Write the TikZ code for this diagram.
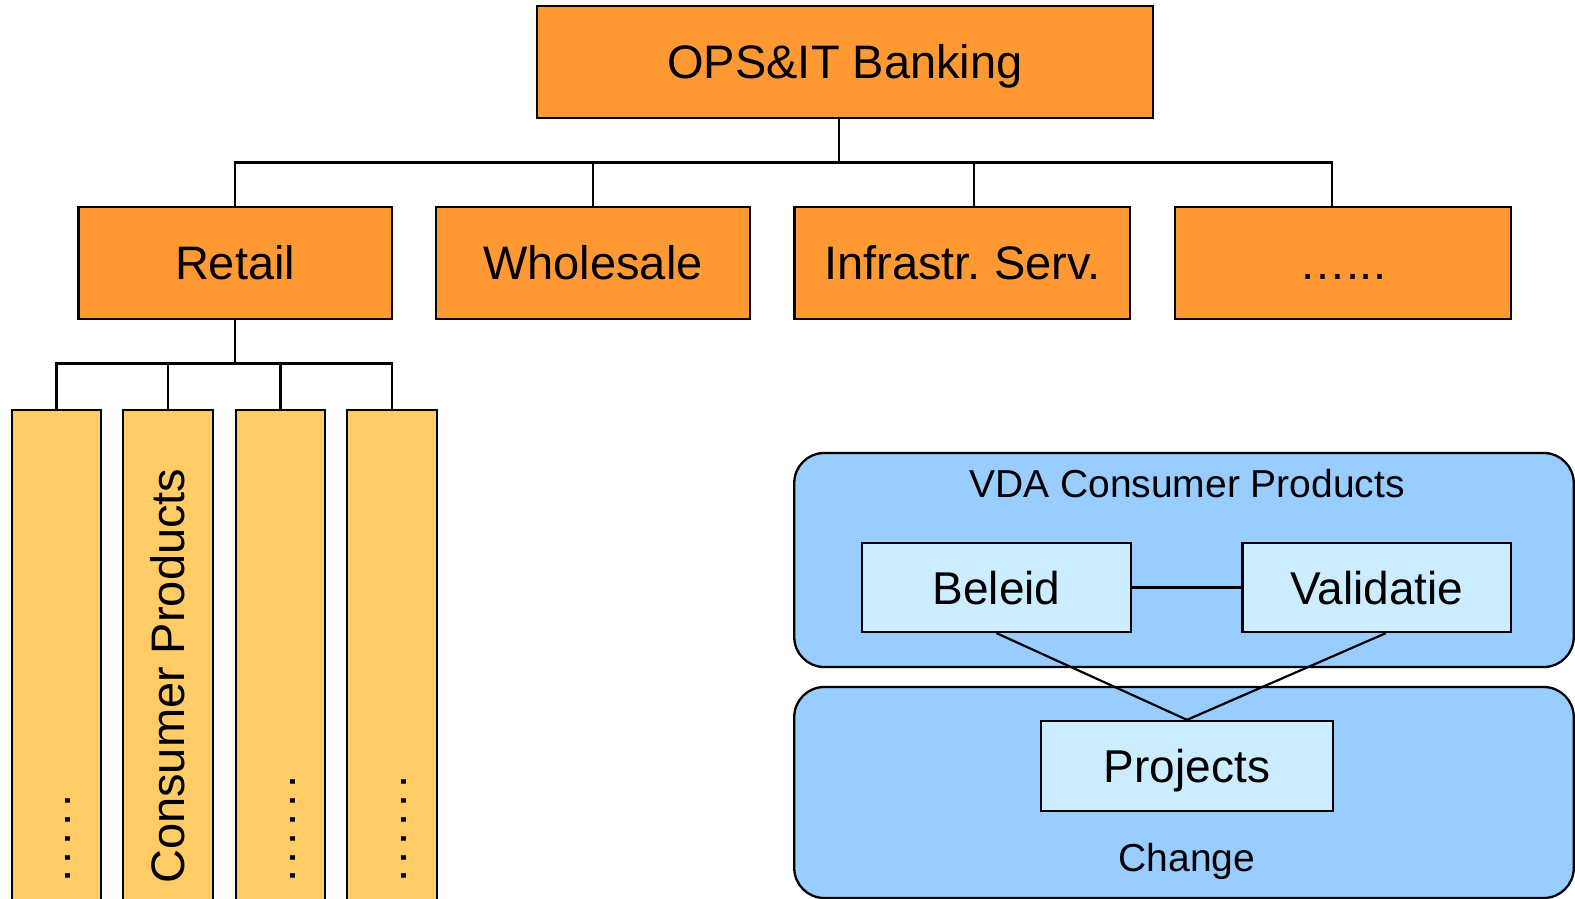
\documentclass[tikz,border=0pt]{standalone}
\usepackage{fontspec}
\setmainfont{Liberation Sans}
\usetikzlibrary{calc}
\frenchspacing
\definecolor{orangebox}{HTML}{FF9933}
\definecolor{colbox}{HTML}{FFCC66}
\definecolor{bluebox}{HTML}{99CCFF}
\definecolor{lightbox}{HTML}{CCECFF}
\newcommand{\sdot}{.\kern5.7pt}
\tikzset{
  orgbox/.style={draw=black, line width=2.3pt, fill=orangebox, minimum height=112pt, inner sep=0pt,
    font=\fontsize{47}{56}\selectfont, text height=33.6pt, text depth=0pt},
  colrect/.style={draw=black, line width=2.3pt, fill=colbox, minimum width=89.5pt, minimum height=520pt, inner sep=0pt},
  coltext/.style={rotate=90, anchor=base west, inner sep=0pt, font=\fontsize{47}{56}\selectfont},
  groupbox/.style={draw=black, line width=2.3pt, fill=bluebox, rounded corners=30pt, minimum width=779.5pt, inner sep=0pt},
  unitbox/.style={draw=black, line width=2.3pt, fill=lightbox, minimum height=89pt, inner sep=0pt,
    font=\fontsize{46}{55}\selectfont, text height=33pt, text depth=0pt},
  grouptext/.style={anchor=base, inner sep=0pt, font=\fontsize{39}{47}\selectfont},
  conn/.style={draw=black, line width=2.2pt}
}
\begin{document}
\begin{tikzpicture}[x=1pt, y=-1pt]
\useasboundingbox (0,0) rectangle (1575,899);
% top level
\node[orgbox, minimum width=616pt] (top) at (845,62) {OPS\&IT Banking};
\node[orgbox, minimum width=313.4pt] (retail) at (235.1,263) {Retail};
\node[orgbox, minimum width=314pt] (whole) at (593,263) {Wholesale};
\node[orgbox, minimum width=335.5pt] (infra) at (962.3,263) {Infrastr. Serv.};
\node[orgbox, minimum width=336pt] (more) at (1343,263) {…...};
% bus connectors
\coordinate (busA) at (0,162.5);
\coordinate (tA) at ($(top.south)+(-6,0)$);
\coordinate (ci) at ($(infra.north)+(11.7,0)$);
\coordinate (cm) at ($(more.north)+(-11,0)$);
\draw[conn] (tA) -- (tA |- busA);
\draw[conn] (retail.north) |- (cm |- busA) -- (cm);
\draw[conn] (whole.north) -- (whole.north |- busA);
\draw[conn] (ci) -- (ci |- busA);
% columns
\node[colrect, anchor=north] (c1) at (56.5,409) {};
\node[colrect, anchor=north] (c2) at (168,409) {};
\node[colrect, anchor=north] (c3) at (280.5,409) {};
\node[colrect, anchor=north] (c4) at (392,409) {};
\node[coltext] (t1) at (70.5,883) {\sdot\sdot\sdot\sdot.};
\node[coltext] (t2) at (184,884) {Consumer Products};
\node[coltext] (t3) at (295,883) {\sdot\sdot\sdot\sdot\sdot.};
\node[coltext] (t4) at (406.5,883) {\sdot\sdot\sdot\sdot\sdot.};
\coordinate (busB) at (0,363.5);
\draw[conn] (retail.south) -- (retail.south |- busB);
\draw[conn] (c1.north) |- (c4.north |- busB) -- (c4.north);
\draw[conn] (c2.north) -- (c2.north |- busB);
\draw[conn] (c3.north) -- (c3.north |- busB);
% VDA groups
\node[groupbox, minimum height=214pt] (vda) at (1184,560) {};
\node[groupbox, minimum height=211pt] (change) at (1184,792.5) {};
\node[grouptext] (vdat) at (1187,497) {VDA Consumer Products};
\node[grouptext] (changet) at (1187,871) {Change};
\node[unitbox, minimum width=269pt] (beleid) at (996.5,587.5) {Beleid};
\node[unitbox, minimum width=268.5pt] (valid) at (1376.8,587.5) {Validatie};
\node[unitbox, minimum width=292pt, minimum height=90pt] (proj) at (1187,766) {Projects};
\coordinate (vs) at ($(valid.south)+(9,0)$);
\draw[conn] (beleid.east) -- (valid.west);
\draw[conn] (beleid.south) -- (proj.north);
\draw[conn] (vs) -- (proj.north);
\end{tikzpicture}
\end{document}
